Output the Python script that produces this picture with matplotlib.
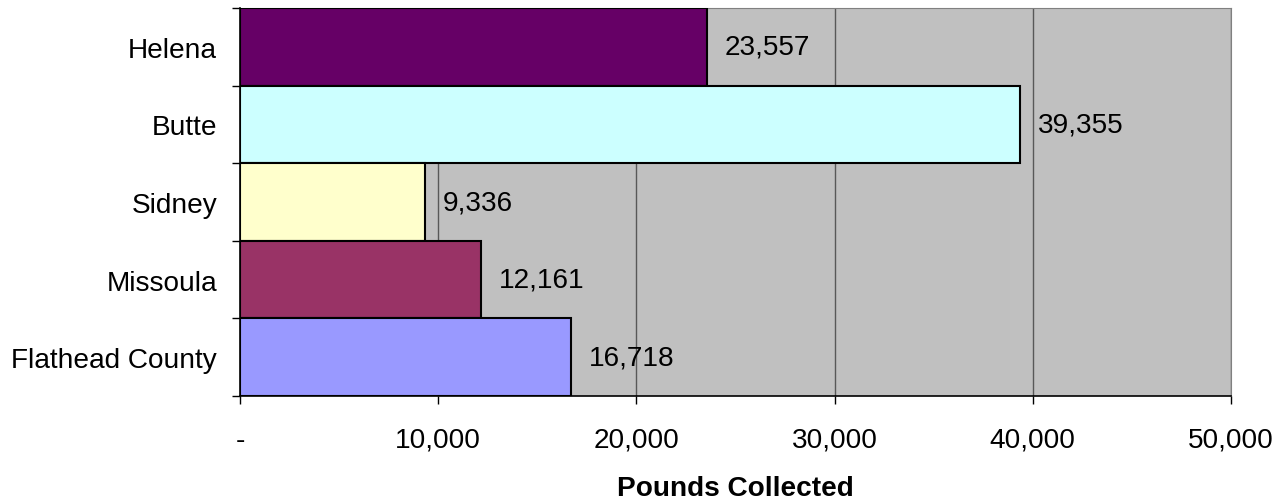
import numpy as np
import matplotlib
matplotlib.use("Agg")
import matplotlib.pyplot as plt
from matplotlib.ticker import FuncFormatter

plt.rcParams['font.family'] = ['Liberation Sans', 'DejaVu Sans']

# --- data ---
sites = ['Helena', 'Butte', 'Sidney', 'Missoula', 'Flathead County']
pounds = [23557, 39355, 9336, 12161, 16718]
bar_colors = ['#660066', '#CCFFFF', '#FFFFCC', '#993366', '#9999FF']
x_ticks = [0, 10000, 20000, 30000, 40000, 50000]

FS = 20.2

fig = plt.figure(figsize=(12.79, 5.02), dpi=100)
ax = fig.add_axes([240 / 1279, 1 - 397 / 502, 991 / 1279, 388 / 502])
ax.set_facecolor('#C0C0C0')

ypos = np.arange(len(sites))
ax.barh(ypos, pounds, height=1.0, color=bar_colors, edgecolor='black',
        linewidth=1.5, zorder=3)

# подписи значений справа от столбцов
for y, v in zip(ypos, pounds):
    ax.annotate(f'{v:,}', xy=(v, y), xytext=(18, 0), textcoords='offset pixels',
                ha='left', va='center', fontsize=FS, zorder=4)

ax.set_xlim(0, 50000)
ax.set_ylim(len(sites) - 0.5, -0.5)

ax.set_xticks(x_ticks)
ax.xaxis.set_major_formatter(FuncFormatter(lambda v, p: '-' if v == 0 else f'{int(v):,}'))
ax.tick_params(axis='x', length=6, width=1, color='black', pad=16, labelsize=FS)
ax.grid(axis='x', color='#585858', linewidth=1, zorder=1)

# деления на границах категорий, подписи по центрам
ax.set_yticks(np.arange(-0.5, len(sites), 1.0))
ax.set_yticklabels([])
ax.tick_params(axis='y', which='major', length=6, width=1, color='black')
ax.set_yticks(ypos, minor=True)
ax.set_yticklabels(sites, minor=True, fontsize=FS)
ax.tick_params(axis='y', which='minor', length=0, pad=16.5)

for side in ['top', 'right']:
    ax.spines[side].set_color('#808080')
for side in ['left', 'bottom']:
    ax.spines[side].set_color('black')
    ax.spines[side].set_linewidth(1.2)

ax.set_xlabel('Pounds Collected', fontsize=FS, fontweight='bold', labelpad=16)

fig.savefig('out.png', dpi=100)
